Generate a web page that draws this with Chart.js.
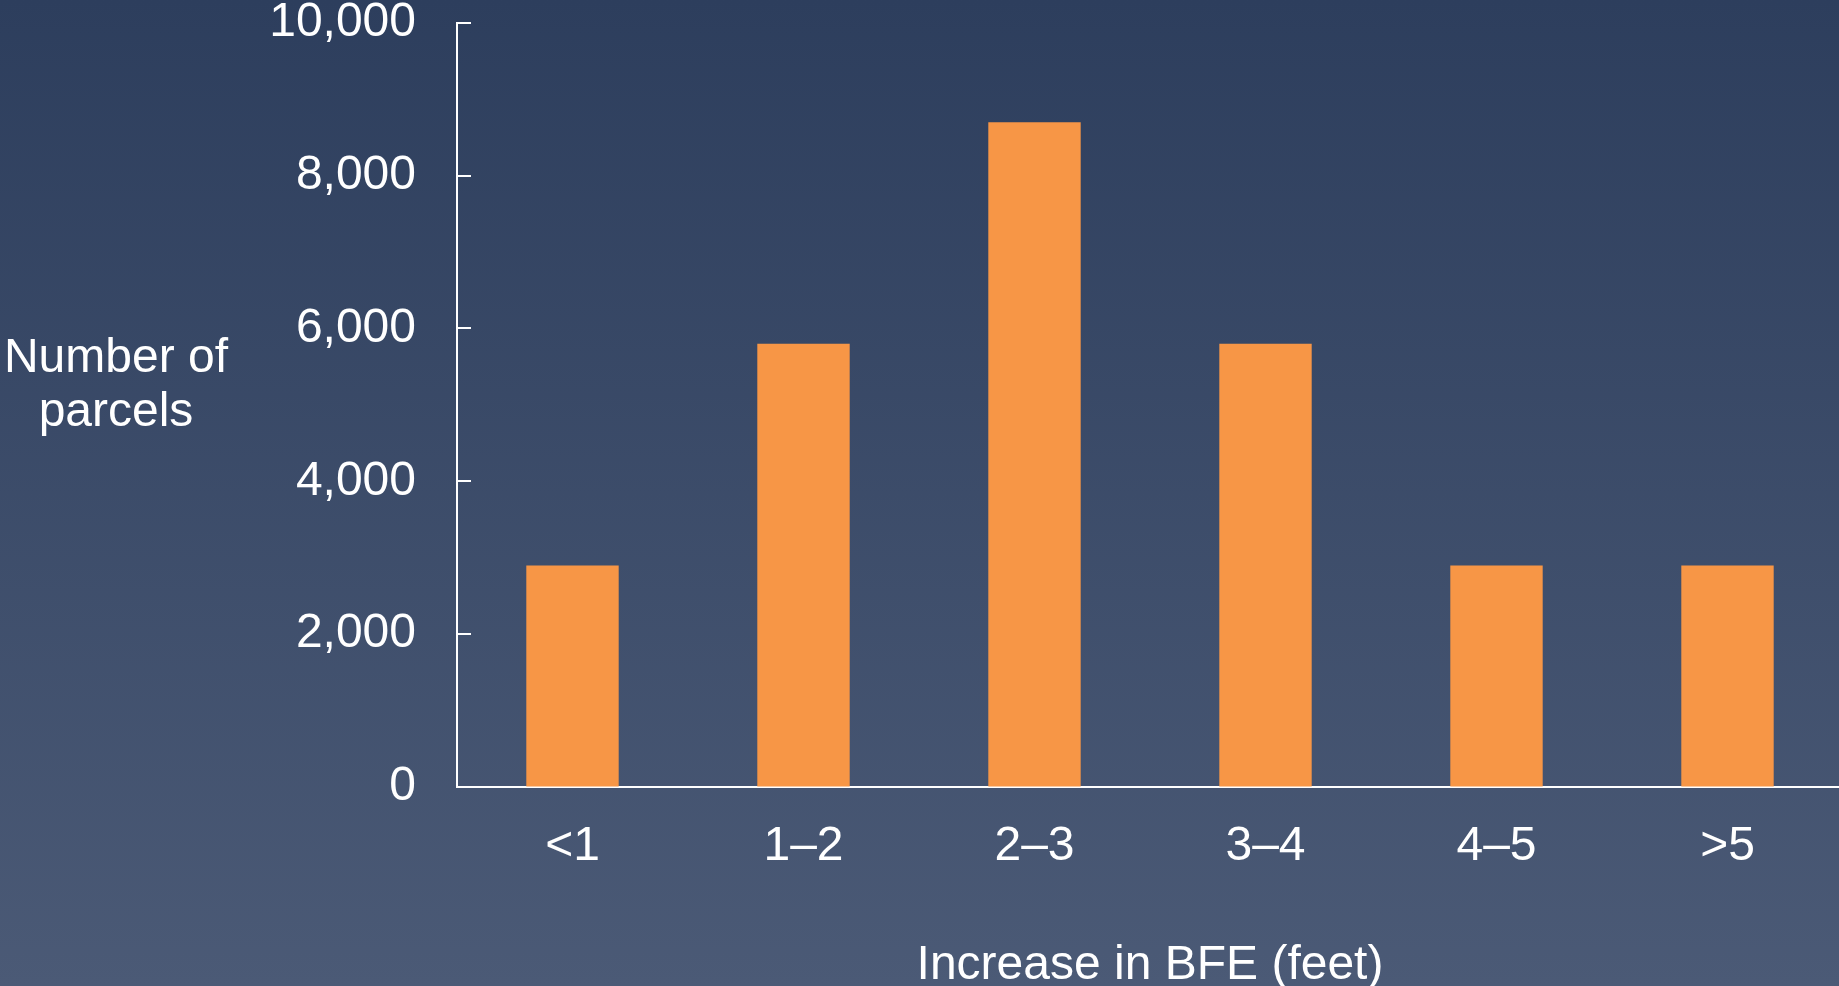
<!DOCTYPE html>
<html>
<head>
    <meta charset="UTF-8">
    <title>Number of parcels by increase in BFE</title>
    <script src="https://cdn.jsdelivr.net/npm/chart.js"></script>
    <style>
        html, body { margin: 0; padding: 0; overflow: hidden; }
        body { background: linear-gradient(to bottom, #2d3e5d 0%, #4b5a76 100%); width: 1839px; height: 986px; }
        canvas { display: block; }
    </style>
</head>
<body>
    <canvas id="myChart" width="1843" height="986"></canvas>

    <script>
        // data
        const categories = ['<1', '1\u20132', '2\u20133', '3\u20134', '4\u20135', '>5'];
        const parcels = [2900, 5800, 8700, 5800, 2900, 2900];
        const yTicks = [0, 2000, 4000, 6000, 8000, 10000];
        const yTitle = ['Number of', 'parcels'];
        const xTitle = 'Increase in BFE (feet)';

        const FONT = '"Liberation Sans", Arial, sans-serif';

        // small inward tick marks on the y axis + horizontal y title
        const axisExtras = {
            id: 'axisExtras',
            afterDraw(chart) {
                const ctx = chart.ctx;
                const y = chart.scales.y;
                ctx.save();
                ctx.strokeStyle = '#ffffff';
                ctx.lineWidth = 2;
                y.ticks.forEach(t => {
                    const py = Math.round(y.getPixelForValue(t.value));
                    ctx.beginPath();
                    ctx.moveTo(y.right, py);
                    ctx.lineTo(y.right + 14, py);
                    ctx.stroke();
                });
                ctx.fillStyle = '#ffffff';
                ctx.font = '48px ' + FONT;
                ctx.textAlign = 'center';
                ctx.textBaseline = 'middle';
                yTitle.forEach((line, i) => ctx.fillText(line, 116, 359 + i * 54));
                ctx.restore();
            }
        };

        const ctx = document.getElementById('myChart').getContext('2d');
        new Chart(ctx, {
            type: 'bar',
            data: {
                labels: categories,
                datasets: [{
                    label: 'Number of parcels',
                    data: parcels,
                    backgroundColor: '#f79646',
                    barPercentage: 0.4,
                    categoryPercentage: 1.0
                }]
            },
            options: {
                responsive: false,
                animation: false,
                layout: { padding: 0 },
                plugins: {
                    legend: { display: false },
                    tooltip: { enabled: false }
                },
                scales: {
                    x: {
                        grid: { display: true, drawOnChartArea: false, drawTicks: true, tickLength: 36, color: 'rgba(0,0,0,0)' },
                        border: { display: true, color: '#ffffff', width: 2 },
                        ticks: {
                            color: '#ffffff',
                            padding: 0,
                            font: { family: FONT, size: 48, lineHeight: 1 }
                        },
                        title: {
                            display: true,
                            text: xTitle,
                            color: '#ffffff',
                            padding: { top: 71, bottom: -4 },
                            font: { family: FONT, size: 48, lineHeight: 1 }
                        }
                    },
                    y: {
                        min: 0,
                        max: 10000,
                        afterBuildTicks(scale) {
                            scale.ticks = yTicks.map(v => ({ value: v }));
                        },
                        afterFit(scale) {
                            scale.width = 457;
                        },
                        grid: { display: true, drawOnChartArea: false, drawTicks: true, tickLength: 41, color: 'rgba(0,0,0,0)' },
                        border: { display: true, color: '#ffffff', width: 2 },
                        ticks: {
                            color: '#ffffff',
                            padding: 0,
                            font: { family: FONT, size: 48, lineHeight: 0.95 },
                            callback: v => v.toLocaleString('en-US')
                        }
                    }
                }
            },
            plugins: [axisExtras]
        });
    </script>
</body>
</html>
